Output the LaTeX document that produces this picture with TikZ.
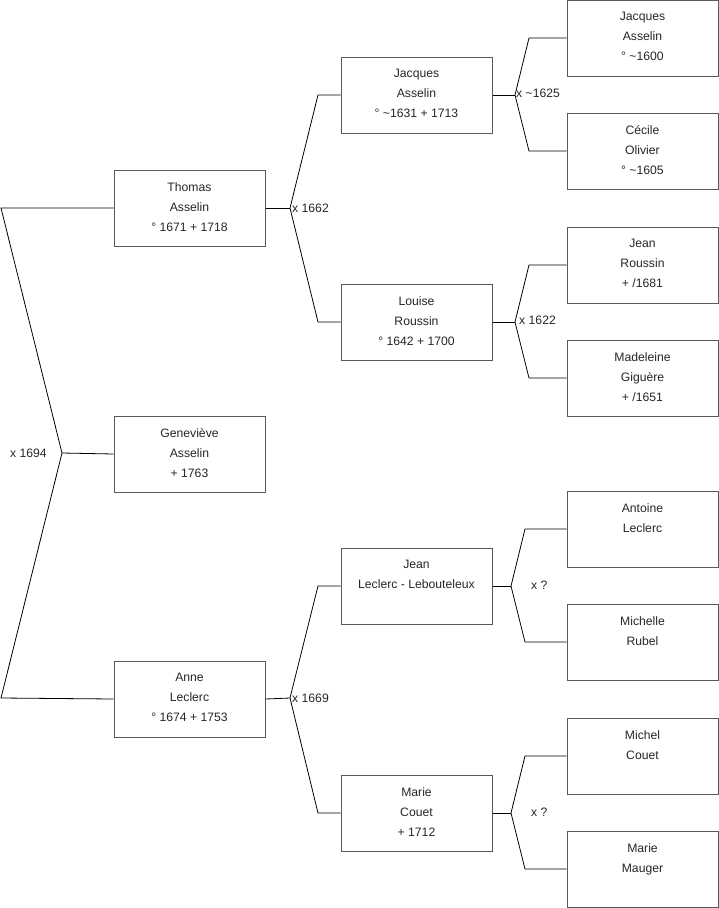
\documentclass[tikz,border=0pt]{standalone}
\usepackage{fontspec}
\setmainfont{Liberation Sans}
\begin{document}
\begin{tikzpicture}[x=1pt,y=-1pt,
  box/.style={draw=black!65, line width=1pt, minimum width=151pt, minimum height=76pt, inner sep=0pt},
  txt/.style={anchor=north, align=center, inner sep=0pt, text=black!85, font=\fontsize{12.2}{20}\selectfont},
  conn/.style={draw=black, line width=0.8pt},
  mar/.style={inner sep=0pt, text=black!85, font=\fontsize{12.2}{14}\selectfont}]
\useasboundingbox (0,0) rectangle (719,908);
% boxes: (name) at (left+75.5, top+38)
\newcommand{\pbox}[4]{%
  \node[box] (#1) at (#2+75.5,#3+38) {};
  \node[txt] (#1T) at ([yshift=-12.6pt]#1.north) {#4};}
\pbox{thomas}{114}{170}{Thomas\\Asselin\\° 1671 + 1718}
\pbox{gene}{114}{416}{Geneviève\\Asselin\\+ 1763}
\pbox{anne}{114}{661}{Anne\\Leclerc\\° 1674 + 1753}
\pbox{jacq}{341}{57}{Jacques\\Asselin\\° \textasciitilde1631 + 1713}
\pbox{louise}{341}{284}{Louise\\Roussin\\° 1642 + 1700}
\pbox{jean}{341}{548}{Jean\\Leclerc - Lebouteleux}
\pbox{marie}{341}{775}{Marie\\Couet\\+ 1712}
\pbox{jacqA}{567}{0}{Jacques\\Asselin\\° \textasciitilde1600}
\pbox{cecile}{567}{113}{Cécile\\Olivier\\° \textasciitilde1605}
\pbox{jeanR}{567}{227}{Jean\\Roussin\\+ /1681}
\pbox{made}{567}{340}{Madeleine\\Giguère\\+ /1651}
\pbox{antoine}{567}{491}{Antoine\\Leclerc}
\pbox{michelle}{567}{604}{Michelle\\Rubel}
\pbox{michel}{567}{718}{Michel\\Couet}
\pbox{mauger}{567}{831}{Marie\\Mauger}
% left bracket
\coordinate (f0) at (62,453);
\coordinate (l0a) at (1,208);
\coordinate (l0b) at (1,698);
\draw[conn] (thomas.west) -- (l0a) -- (f0) -- (l0b) -- (anne.west);
\draw[conn] (f0) -- (gene.west);
\node[mar, anchor=east] (m0) at (47,453) {x 1694};
% generation 1 -> 2
\coordinate (f1) at (290,208);
\draw[conn] (thomas.east) -- (f1);
\draw[conn] (jacq.west) -- (318,95) -- (f1) -- (318,322) -- (louise.west);
\node[mar, anchor=west] (m1) at (292,208) {x 1662};
\coordinate (f2) at (290,698);
\draw[conn] (anne.east) -- (f2);
\draw[conn] (jean.west) -- (318,586) -- (f2) -- (318,813) -- (marie.west);
\node[mar, anchor=west] (m2) at (292,698) {x 1669};
% generation 2 -> 3
\coordinate (f3) at (515,95);
\draw[conn] (jacq.east) -- (f3);
\draw[conn] (jacqA.west) -- (529,38) -- (f3) -- (529,151) -- (cecile.west);
\node[mar, anchor=west] (m3) at (516,93) {x \textasciitilde1625};
\coordinate (f4) at (515,322);
\draw[conn] (louise.east) -- (f4);
\draw[conn] (jeanR.west) -- (529,265) -- (f4) -- (529,378) -- (made.west);
\node[mar, anchor=west] (m4) at (519,320) {x 1622};
\coordinate (f5) at (511,586);
\draw[conn] (jean.east) -- (f5);
\draw[conn] (antoine.west) -- (525,529) -- (f5) -- (525,642) -- (michelle.west);
\node[mar, anchor=west] (m5) at (531,585) {x ?};
\coordinate (f6) at (511,813);
\draw[conn] (marie.east) -- (f6);
\draw[conn] (michel.west) -- (525,756) -- (f6) -- (525,869) -- (mauger.west);
\node[mar, anchor=west] (m6) at (531,812) {x ?};
\end{tikzpicture}
\end{document}
